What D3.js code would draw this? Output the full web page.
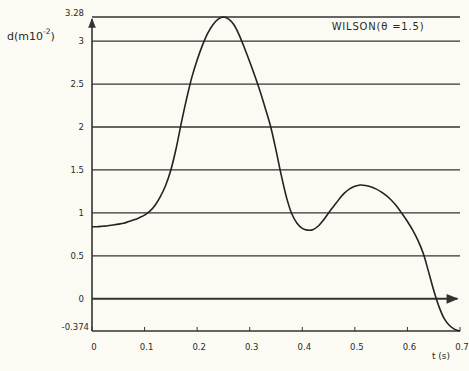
<!DOCTYPE html>
<html>
<head>
<meta charset="utf-8">
<script src="https://cdn.jsdelivr.net/npm/d3@7"></script>
<style>
  body { margin: 0; background: #fbfaf3; }
  text { font-family: "DejaVu Sans", sans-serif; fill: #2a2a2a; }
</style>
</head>
<body>
<script>
// response curve, every 0.01 s
var tVals = [0, 0.01, 0.02, 0.03, 0.04, 0.05, 0.06, 0.07, 0.08, 0.09,
             0.1, 0.11, 0.12, 0.13, 0.14, 0.15, 0.16, 0.17, 0.18, 0.19,
             0.2, 0.21, 0.22, 0.23, 0.24, 0.25, 0.26, 0.27, 0.28, 0.29,
             0.3, 0.31, 0.32, 0.33, 0.34, 0.35, 0.36, 0.37, 0.38, 0.39,
             0.4, 0.41, 0.42, 0.43, 0.44, 0.45, 0.46, 0.47, 0.48, 0.49,
             0.5, 0.51, 0.52, 0.53, 0.54, 0.55, 0.56, 0.57, 0.58, 0.59,
             0.6, 0.61, 0.62, 0.63, 0.64, 0.65, 0.66, 0.67, 0.68, 0.69, 0.7];
var dVals = [0.84, 0.84, 0.845, 0.85, 0.86, 0.87, 0.88, 0.9, 0.92, 0.945,
             0.975, 1.02, 1.09, 1.19, 1.32, 1.5, 1.75, 2.05, 2.33, 2.58,
             2.78, 2.95, 3.09, 3.19, 3.255, 3.28, 3.255, 3.19, 3.07, 2.92,
             2.76, 2.59, 2.41, 2.21, 2.0, 1.73, 1.44, 1.18, 0.99, 0.88,
             0.82, 0.8, 0.805, 0.845, 0.915, 1.0, 1.08, 1.16, 1.23, 1.28,
             1.31, 1.325, 1.32, 1.305, 1.28, 1.245, 1.2, 1.145, 1.075, 0.99,
             0.9, 0.8, 0.68, 0.53, 0.32, 0.1, -0.09, -0.23, -0.31, -0.355, -0.374];

var yTicks = [-0.374, 0, 0.5, 1, 1.5, 2, 2.5, 3, 3.28];
var yTickLabels = ["-0.374", "0", "0.5", "1", "1.5", "2", "2.5", "3", "3.28"];
var xTicks = [0, 0.1, 0.2, 0.3, 0.4, 0.5, 0.6, 0.7];
var xTickLabels = ["0", "0.1", "0.2", "0.3", "0.4", "0.5", "0.6", "0.7"];

var width = 469, height = 371;

var x = d3.scaleLinear().domain([0, 0.7]).range([92, 460]);
var y = d3.scaleLinear().domain([-0.374, 3.28]).range([331, 17]);

var svg = d3.select("body").append("svg")
    .attr("width", width)
    .attr("height", height);

var defs = svg.append("defs");
defs.append("marker")
    .attr("id", "arr")
    .attr("viewBox", "0 0 10 10")
    .attr("refX", 9).attr("refY", 5)
    .attr("markerWidth", 7).attr("markerHeight", 6)
    .attr("orient", "auto")
  .append("path")
    .attr("d", "M0,1 L10,5 L0,9 Z")
    .attr("fill", "#333");

// horizontal grid lines
svg.append("g")
  .selectAll("line")
  .data(yTicks.filter(function(d) { return d !== 0 && d !== -0.374; }))
  .enter().append("line")
    .attr("x1", x(0)).attr("x2", x(0.7))
    .attr("y1", function(d) { return y(d); })
    .attr("y2", function(d) { return y(d); })
    .attr("stroke", "#333")
    .attr("stroke-width", 1.3);

// zero line with arrow
svg.append("line")
    .attr("x1", x(0)).attr("x2", x(0.695))
    .attr("y1", y(0)).attr("y2", y(0))
    .attr("stroke", "#333")
    .attr("stroke-width", 2)
    .attr("marker-end", "url(#arr)");

// bottom axis
svg.append("line")
    .attr("x1", x(0)).attr("x2", x(0.7))
    .attr("y1", y(-0.374)).attr("y2", y(-0.374))
    .attr("stroke", "#333")
    .attr("stroke-width", 1.4);

svg.append("g")
  .selectAll("line")
  .data(xTicks)
  .enter().append("line")
    .attr("x1", function(d) { return x(d); })
    .attr("x2", function(d) { return x(d); })
    .attr("y1", y(-0.374)).attr("y2", y(-0.374) - 4)
    .attr("stroke", "#333");

// y axis with arrow
svg.append("line")
    .attr("x1", x(0)).attr("x2", x(0))
    .attr("y1", y(-0.374)).attr("y2", y(3.28) + 2)
    .attr("stroke", "#333")
    .attr("stroke-width", 1.6)
    .attr("marker-end", "url(#arr)");

// y tick labels
svg.append("g")
  .selectAll("text")
  .data(yTicks)
  .enter().append("text")
    .attr("x", function(d, i) { return i === 0 ? 89 : 84; })
    .attr("y", function(d, i) { return y(d) + (i === 0 ? -1 : (i === yTicks.length - 1 ? -1 : 3)); })
    .attr("text-anchor", "end")
    .attr("font-size", 8.5)
    .text(function(d, i) { return yTickLabels[i]; });

// x tick labels
svg.append("g")
  .selectAll("text")
  .data(xTicks)
  .enter().append("text")
    .attr("x", function(d) { return x(d) + 2; })
    .attr("y", 350)
    .attr("text-anchor", "middle")
    .attr("font-size", 8.5)
    .text(function(d, i) { return xTickLabels[i]; });

svg.append("text")
    .attr("x", 441).attr("y", 359)
    .attr("text-anchor", "middle")
    .attr("font-size", 9)
    .text("t (s)");

var yl = svg.append("text")
    .attr("x", 7).attr("y", 40)
    .attr("font-size", 11);
yl.append("tspan").text("d(m10");
yl.append("tspan").attr("dy", -6).attr("font-size", 7.5).text("-2");
yl.append("tspan").attr("dy", 6).text(")");

svg.append("text")
    .attr("x", 378).attr("y", 30)
    .attr("text-anchor", "middle")
    .attr("font-size", 10)
    .attr("letter-spacing", 0.8)
    .text("WILSON(\u03b8 =1.5)");

// curve
var pts = tVals.map(function(t, i) { return [t, dVals[i]]; });
var line = d3.line()
    .x(function(d) { return x(d[0]); })
    .y(function(d) { return y(d[1]); })
    .curve(d3.curveCatmullRom.alpha(0.5));

svg.append("path")
    .datum(pts)
    .attr("d", line)
    .attr("fill", "none")
    .attr("stroke", "#222")
    .attr("stroke-width", 1.6);
</script>
</body>
</html>
